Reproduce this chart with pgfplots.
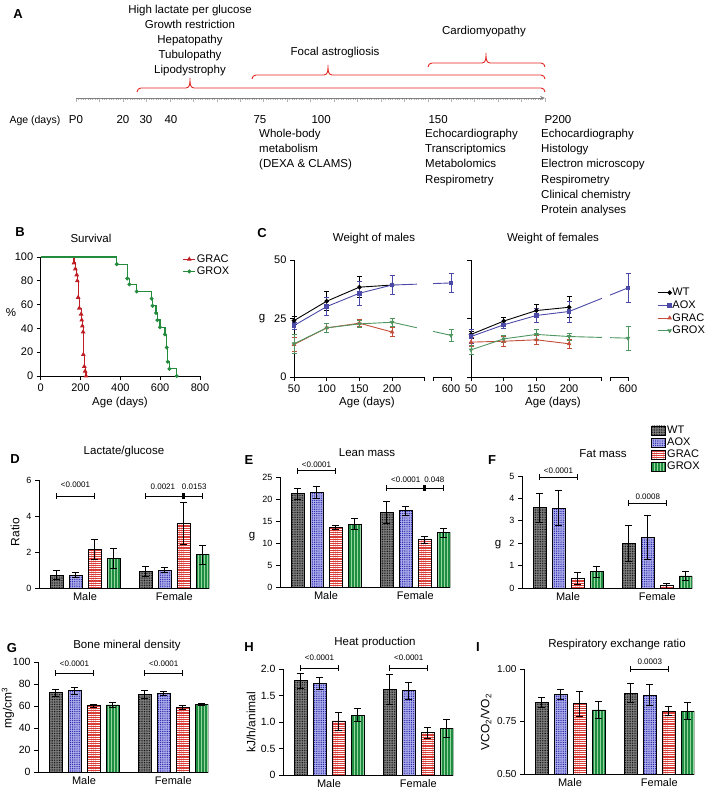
\documentclass[border=0pt]{standalone}
\usepackage{fontspec}
\setmainfont{Liberation Sans}
\usepackage{pgfplots}
\pgfplotsset{compat=1.18}
\usetikzlibrary{patterns.meta,arrows.meta}

\definecolor{aRed}{RGB}{226,38,32}
\definecolor{bRed}{RGB}{190,30,36}
\definecolor{bGreen}{RGB}{34,139,60}
\definecolor{cBlue}{RGB}{76,74,168}
\definecolor{cRed}{RGB}{196,78,58}
\definecolor{cGreen}{RGB}{78,150,96}
\definecolor{wtFill}{RGB}{130,130,130}
\definecolor{aoxFill}{RGB}{175,175,235}
\definecolor{aoxDot}{RGB}{35,35,170}
\definecolor{gracFill}{RGB}{218,62,56}
\definecolor{groxFill}{RGB}{30,140,65}
\definecolor{groxLine}{RGB}{150,215,160}

\newcommand\lfont{\fontsize{13}{15}\selectfont\bfseries}
\newcommand\tfont{\fontsize{11.5}{13}\selectfont}
\newcommand\afont{\fontsize{11.5}{15.2}\selectfont}
\newcommand\sfont{\fontsize{8}{9}\selectfont}
\newcommand\yfont{\fontsize{12}{14}\selectfont}

% red bracket of panel A: left end, tip, right end, height of the line (px from top)
\newcommand\brc[4]{\draw[aRed, line width=0.9pt] (#1pt,-#4pt-4pt) to[out=90,in=180] (#1pt+4pt,-#4pt)
  -- (#2pt-4pt,-#4pt) to[out=0,in=-90] (#2pt,-#4pt+10pt) to[out=-90,in=180] (#2pt+4pt,-#4pt)
  -- (#3pt-4pt,-#4pt) to[out=0,in=90] (#3pt,-#4pt-4pt);}

% significance bracket: x1, x2, label x, y, label, label shift
\newcommand\sig[6]{%
  \draw[line width=0.8pt] (axis cs:#1,#4) -- (axis cs:#2,#4);
  \draw[line width=0.8pt] ([yshift=-3pt]axis cs:#1,#4) -- ([yshift=3pt]axis cs:#1,#4);
  \draw[line width=0.8pt] ([yshift=-3pt]axis cs:#2,#4) -- ([yshift=3pt]axis cs:#2,#4);
  \node[anchor=south, inner sep=1pt, font=\sfont] at ([yshift=#6]axis cs:#3,#4) {#5};}
\newcommand\junc[2]{\fill ([xshift=-1.6pt,yshift=-2.6pt]axis cs:#1,#2) rectangle ([xshift=1.6pt,yshift=2.6pt]axis cs:#1,#2);}

\pgfplotsset{
  /pgf/number format/assume math mode=true,
  base/.style={anchor=south west, scale only axis, axis lines=left,
    axis line style={-, line width=0.9pt}, tick align=outside, major tick length=4pt,
    tick style={black, line width=0.9pt}, enlargelimits=false},
  barax/.style={base, width=170.24pt, xmin=0.08, xmax=9.04, ymin=0, clip mode=individual,
    xtick={2.5,7.2}, xticklabels={Male,Female}, x tick style={draw=none},
    xticklabel style={font=\fontsize{11}{13}\selectfont, yshift=3pt}},
  errs/.style={error bars/.cd, y dir=both, y explicit,
    error bar style={line width=0.8pt, black},
    error mark options={rotate=90, mark size=3.5pt, line width=0.8pt, black}},
  barleg/.style={legend image code/.code={\draw[##1] (0pt,-4.5pt) rectangle (14pt,4.5pt);}},
  mybar/.style={ybar, bar width=0.68, bar shift=0pt, draw=black, line width=0.8pt},
  sWT/.style={mybar, fill=wtFill, postaction={pattern={Dots[distance=1.7pt,radius=0.5pt]}, pattern color=black}, barleg, errs},
  sAOX/.style={mybar, fill=aoxFill, postaction={pattern={Dots[distance=2.2pt,radius=0.7pt]}, pattern color=aoxDot}, barleg, errs},
  sGRAC/.style={mybar, fill=gracFill, postaction={pattern={Lines[angle=0,distance=2.2pt,line width=0.45pt]}, pattern color=white}, barleg, errs},
  sGROX/.style={mybar, fill=groxFill, postaction={pattern={Lines[angle=90,distance=3pt,line width=0.8pt]}, pattern color=groxLine}, barleg, errs},
  cerr/.style={error bars/.cd, y dir=both, y explicit,
    error bar style={line width=0.7pt},
    error mark options={rotate=90, mark size=2.5pt, line width=0.7pt}},
}

\begin{document}
\begin{tikzpicture}
\useasboundingbox (0pt,0pt) rectangle (709pt,-793pt);

% ================= A: timeline
\node[font=\lfont] at (18pt,-14pt) {A};
\node[anchor=north, align=center, inner sep=0pt, font=\afont] at (190pt,-4.5pt)
  {High lactate per glucose\\Growth restriction\\Hepatopathy\\Tubulopathy\\Lipodystrophy};
\node[font=\afont] at (335pt,-53pt) {Focal astrogliosis};
\node[font=\afont] at (484pt,-32pt) {Cardiomyopathy};
\brc{137}{190}{545}{88}
\brc{252}{328}{545}{75}
\brc{428}{486}{545}{63}

\begin{axis}[at={(76pt,-98pt)}, anchor=south west, scale only axis, width=469pt, height=10pt,
  xmin=0, xmax=200, ymin=0, ymax=1, axis x line*=bottom, hide y axis,
  axis line style={gray, line width=0.8pt, -{Stealth[length=5pt,width=4pt]}},
  xtick={0,10,...,200}, minor x tick num=9, xticklabels={}, tick align=outside,
  major tick length=3.5pt, minor tick length=2pt, tick style={gray!60, line width=0.35pt}]
\addplot[draw=none] coordinates {(0,0) (200,0)};
\end{axis}

\node[anchor=base west, font=\fontsize{10.5}{12}\selectfont] at (6pt,-123pt) {Age (days)};
\foreach \x/\t in {76/P0, 123/20, 146/30, 171/40}
  \node[anchor=base, font=\afont] at (\x pt,-123pt) {\t};
\foreach \x/\t in {250/75, 308/100, 425/150, 541/P200}
  \node[anchor=base west, font=\afont] at (\x pt,-123pt) {\t};
\node[anchor=north west, align=left, inner sep=0pt, font=\afont] at (259pt,-129pt)
  {Whole-body\\metabolism\\(DEXA \& CLAMS)};
\node[anchor=north west, align=left, inner sep=0pt, font=\afont] at (425pt,-129pt)
  {Echocardiography\\Transcriptomics\\Metabolomics\\Respirometry};
\node[anchor=north west, align=left, inner sep=0pt, font=\afont] at (541pt,-129pt)
  {Echocardiography\\Histology\\Electron microscopy\\Respirometry\\Clinical chemistry\\Protein analyses};

% ================= B: survival
\node[font=\lfont] at (20pt,-232pt) {B};
\node[font=\tfont] at (91pt,-238pt) {Survival};
\begin{axis}[base, at={(40.7pt,-376pt)}, width=159.3pt, height=119pt,
  xmin=0, xmax=800, ymin=0, ymax=100, xtick={0,200,...,800}, ytick={0,20,...,100},
  tick label style={font=\fontsize{11}{13}\selectfont}, clip=false,
  legend style={at={(0.89,1.03)}, anchor=north west, draw=none, fill=none, inner sep=0pt,
    row sep=1pt, font=\fontsize{11}{12}\selectfont, nodes={inner sep=1pt}},
  legend cell align=left,
  legend image code/.code={\draw[#1, mark repeat=2, mark phase=2] plot coordinates {(0pt,0pt) (6pt,0pt) (12pt,0pt)};}]
\addplot[const plot, color=bRed, line width=1.2pt, mark=triangle*, mark size=1.6pt, mark repeat=1, mark phase=2]
  coordinates {(0,100) (167,95) (174,90) (181,85) (184,80) (188,66) (194,57) (203,52) (206,47)
               (209,42) (213,37) (214,18) (219,8) (223,4) (228,0)};
\addlegendentry{GRAC}
\addplot[const plot, color=bGreen, line width=1.2pt, mark=*, mark size=1.3pt, mark repeat=1, mark phase=2]
  coordinates {(0,100) (382,94) (435,82) (445,77) (482,71) (557,65) (562,59) (579,53) (586,47)
               (599,41) (624,35) (633,24) (638,12) (646,6) (683,0)};
\addlegendentry{GROX}
\end{axis}
\node[font=\tfont] at (120pt,-403pt) {Age (days)};
\node[font=\tfont] at (11pt,-313pt) {\%};

% ================= C: weights
\node[font=\lfont] at (262pt,-233pt) {C};
\node[font=\tfont] at (374pt,-239pt) {Weight of males};
\node[font=\tfont] at (553pt,-239pt) {Weight of females};
\begin{axis}[base, at={(294pt,-377pt)}, width=157pt, height=117pt,
  xmin=50, xmax=290, ymin=0, ymax=50,
  xtick={50,100,150,200,250,263,290}, xticklabels={50,100,150,200,,,600}, ytick={0,25,50},
  x axis line style={draw=none}, tick label style={font=\fontsize{11}{13}\selectfont}, clip=false]
\addplot[color=black, line width=0.9pt, mark=*, mark size=1.8pt, cerr]
  coordinates {(50,24.1) +- (0,1.8) (100,32.4) +- (0,4) (150,38.4) +- (0,4.5) (200,39.3) +- (0,4)};
\addplot[color=cBlue, line width=0.9pt, mark=square*, mark size=1.8pt, cerr]
  coordinates {(50,22.0) +- (0,1.5) (100,30.1) +- (0,3.9) (150,35.8) +- (0,5.2) (200,39.3) +- (0,4) (290,40.2) +- (0,4.2)};
\addplot[color=cRed, line width=0.9pt, mark=triangle*, mark size=1.8pt, cerr]
  coordinates {(50,13.9) +- (0,3) (100,21.0) +- (0,2) (150,23.0) +- (0,1.5) (200,19.2) +- (0,2)};
\addplot[color=cGreen, line width=0.9pt, mark=triangle*, mark size=1.8pt, mark options={rotate=180}, cerr]
  coordinates {(50,14.2) +- (0,4) (100,21.0) +- (0,2) (150,22.7) +- (0,1.5) (200,23.4) +- (0,1.8) (290,17.8) +- (0,2.5)};
\fill[white] (axis cs:238,1) rectangle (axis cs:262,48);
\draw[line width=0.9pt] (axis cs:50,0) -- (axis cs:250,0);
\draw[line width=0.9pt] (axis cs:263,0) -- (axis cs:290,0);
\end{axis}
\node[font=\tfont] at (262pt,-319pt) {g};
\node[font=\tfont] at (367pt,-403pt) {Age (days)};

\begin{axis}[base, at={(471pt,-377pt)}, width=157pt, height=117pt,
  xmin=50, xmax=290, ymin=0, ymax=50,
  xtick={50,100,150,200,250,263,290}, xticklabels={50,100,150,200,,,600}, ytick={0,25,50}, yticklabels={},
  x axis line style={draw=none}, tick label style={font=\fontsize{11}{13}\selectfont}, clip=false,
  legend style={at={(1.185,0.77)}, anchor=north west, draw=none, fill=none, inner sep=0pt,
    row sep=1.5pt, font=\fontsize{11}{12}\selectfont, nodes={inner sep=1pt}},
  legend cell align=left,
  legend image code/.code={\draw[#1, mark repeat=2, mark phase=2] plot coordinates {(0pt,0pt) (12pt,0pt)};}]
\addplot[color=black, line width=0.9pt, mark=*, mark size=1.8pt, cerr]
  coordinates {(50,18.2) +- (0,1.5) (100,23.9) +- (0,1.5) (150,28.4) +- (0,2.5) (200,29.8) +- (0,4.5)};
\addlegendentry{WT}
\addplot[color=cBlue, line width=0.9pt, mark=square*, mark size=1.8pt, cerr]
  coordinates {(50,17.3) +- (0,3) (100,22.3) +- (0,1.5) (150,26.3) +- (0,3) (200,28.0) +- (0,4.5) (290,38.1) +- (0,6)};
\addlegendentry{AOX}
\addplot[color=cRed, line width=0.9pt, mark=triangle*, mark size=1.8pt, cerr]
  coordinates {(50,14.9) +- (0,2) (100,15.3) +- (0,2) (150,15.9) +- (0,2) (200,14.2) +- (0,2)};
\addlegendentry{GRAC}
\addplot[color=cGreen, line width=0.9pt, mark=triangle*, mark size=1.8pt, mark options={rotate=180}, cerr]
  coordinates {(50,11.6) +- (0,2) (100,16.3) +- (0,1.5) (150,18.2) +- (0,2) (200,17.3) +- (0,1.5) (290,16.6) +- (0,5)};
\addlegendentry{GROX}
\fill[white] (axis cs:251,1) rectangle (axis cs:262,48);
\draw[line width=0.9pt] (axis cs:50,0) -- (axis cs:250,0);
\draw[line width=0.9pt] (axis cs:263,0) -- (axis cs:290,0);
\end{axis}
\node[font=\tfont] at (553pt,-403pt) {Age (days)};

% ================= D: lactate/glucose
\node[font=\lfont] at (15pt,-459pt) {D};
\node[font=\tfont] at (124pt,-452pt) {Lactate/glucose};
\begin{axis}[barax, at={(39pt,-588pt)}, height=108pt, ymax=6, ytick={0,2,4,6},
  yticklabel style={font=\fontsize{9}{11}\selectfont}]
\addplot[sWT] coordinates {(1,0.72) +- (0,0.25) (5.7,0.9) +- (0,0.28)};
\addplot[sAOX] coordinates {(2,0.72) +- (0,0.15) (6.7,1.0) +- (0,0.15)};
\addplot[sGRAC] coordinates {(3,2.15) +- (0,0.55) (7.7,3.59) +- (0,1.15)};
\addplot[sGROX] coordinates {(4,1.65) +- (0,0.55) (8.7,1.85) +- (0,0.52)};
\sig{1}{3}{2}{5.11}{<0.0001}{7pt}
\sig{5.7}{7.7}{6.6}{5.11}{0.0021}{5pt}
\sig{7.7}{8.7}{8.25}{5.11}{0.0153}{5pt}
\junc{7.7}{5.11}
\end{axis}
\node[font=\yfont, rotate=90] at (15pt,-532pt) {Ratio};

% ================= E: lean mass
\node[font=\lfont] at (249pt,-460pt) {E};
\node[font=\tfont] at (367pt,-453pt) {Lean mass};
\begin{axis}[barax, at={(280pt,-587pt)}, height=110pt, ymax=25, ytick={0,5,...,25},
  yticklabel style={font=\fontsize{9}{11}\selectfont}]
\addplot[sWT] coordinates {(1,21.2) +- (0,1.2) (5.7,16.9) +- (0,2.5)};
\addplot[sAOX] coordinates {(2,21.5) +- (0,1.4) (6.7,17.3) +- (0,1.1)};
\addplot[sGRAC] coordinates {(3,13.6) +- (0,0.5) (7.7,10.8) +- (0,0.8)};
\addplot[sGROX] coordinates {(4,14.3) +- (0,1.2) (8.7,12.3) +- (0,1.0)};
\sig{1}{3}{2}{26.4}{<0.0001}{2pt}
\sig{5.7}{7.7}{6.7}{22.5}{<0.0001}{4pt}
\sig{7.7}{8.7}{8.2}{22.5}{0.048}{4pt}
\junc{7.7}{22.5}
\end{axis}
\node[font=\tfont] at (252pt,-537pt) {g};

% ================= F: fat mass
\node[font=\lfont] at (492pt,-460pt) {F};
\node[font=\tfont] at (603pt,-454pt) {Fat mass};
\begin{axis}[barax, at={(522pt,-588pt)}, height=112pt, ymax=5, ytick={0,1,...,5},
  yticklabel style={font=\fontsize{9}{11}\selectfont},
  legend style={at={(0.758,1.46)}, anchor=north west, draw=none, fill=none, inner sep=0pt,
    row sep=0.5pt, font=\fontsize{11}{11}\selectfont, nodes={inner sep=1.2pt}},
  legend cell align=left]
\addplot[sWT] coordinates {(1,3.58) +- (0,0.65) (5.7,2.0) +- (0,0.8)};
\addlegendentry{WT}
\addplot[sAOX] coordinates {(2,3.56) +- (0,0.78) (6.7,2.26) +- (0,1.0)};
\addlegendentry{AOX}
\addplot[sGRAC] coordinates {(3,0.43) +- (0,0.28) (7.7,0.1) +- (0,0.1)};
\addlegendentry{GRAC}
\addplot[sGROX] coordinates {(4,0.73) +- (0,0.25) (8.7,0.54) +- (0,0.22)};
\addlegendentry{GROX}
\sig{1}{3}{2}{4.96}{<0.0001}{2pt}
\sig{5.7}{7.7}{6.7}{3.79}{0.0008}{2pt}
\end{axis}
\node[font=\tfont] at (498pt,-545pt) {g};

% ================= G: bone mineral density
\node[font=\lfont] at (12pt,-648pt) {G};
\node[font=\tfont] at (127pt,-646pt) {Bone mineral density};
\begin{axis}[barax, at={(38pt,-772pt)}, height=110pt, ymax=100, ytick={0,20,...,100},
  yticklabel style={font=\fontsize{10.5}{12}\selectfont}]
\addplot[sWT] coordinates {(1,72) +- (0,3) (5.7,70.6) +- (0,4)};
\addplot[sAOX] coordinates {(2,73.8) +- (0,3) (6.7,71.2) +- (0,1.8)};
\addplot[sGRAC] coordinates {(3,60.3) +- (0,1.5) (7.7,58.8) +- (0,2)};
\addplot[sGROX] coordinates {(4,61.0) +- (0,2.5) (8.7,61.3) +- (0,1)};
\sig{1}{3}{2}{90}{<0.0001}{5pt}
\sig{5.7}{7.7}{6.7}{90}{<0.0001}{5pt}
\end{axis}
\node[font=\yfont, rotate=90] at (8pt,-708pt) {mg/cm\textsuperscript{3}};

% ================= H: heat production
\node[font=\lfont] at (249pt,-647pt) {H};
\node[font=\tfont] at (375pt,-643pt) {Heat production};
\begin{axis}[barax, at={(283pt,-775pt)}, height=106pt, ymax=2, ytick={0,0.5,1,1.5,2},
  yticklabels={0,0.5,1.0,1.5,2.0}, yticklabel style={font=\fontsize{10.5}{12}\selectfont}]
\addplot[sWT] coordinates {(1,1.78) +- (0,0.14) (5.7,1.62) +- (0,0.28)};
\addplot[sAOX] coordinates {(2,1.73) +- (0,0.11) (6.7,1.59) +- (0,0.16)};
\addplot[sGRAC] coordinates {(3,1.02) +- (0,0.17) (7.7,0.80) +- (0,0.1)};
\addplot[sGROX] coordinates {(4,1.13) +- (0,0.12) (8.7,0.88) +- (0,0.17)};
\sig{1}{3}{2}{2.02}{<0.0001}{6pt}
\sig{5.7}{7.7}{6.7}{2.02}{<0.0001}{6pt}
\end{axis}
\node[font=\yfont, rotate=90] at (251pt,-722pt) {kJ/h/animal};

% ================= I: respiratory exchange ratio
\node[font=\lfont] at (478pt,-647pt) {I};
\node[font=\tfont] at (617pt,-645pt) {Respiratory exchange ratio};
\begin{axis}[barax, at={(524pt,-774pt)}, height=105pt, ymin=0.5, ymax=1, ytick={0.5,0.75,1},
  yticklabels={0.50,0.75,1.00}, yticklabel style={font=\fontsize{10}{12}\selectfont}]
\addplot[sWT] coordinates {(1,0.84) +- (0,0.025) (5.7,0.885) +- (0,0.045)};
\addplot[sAOX] coordinates {(2,0.88) +- (0,0.025) (6.7,0.875) +- (0,0.05)};
\addplot[sGRAC] coordinates {(3,0.835) +- (0,0.06) (7.7,0.80) +- (0,0.022)};
\addplot[sGROX] coordinates {(4,0.805) +- (0,0.04) (8.7,0.80) +- (0,0.04)};
\sig{5.7}{7.7}{6.7}{1.0}{0.0003}{3pt}
\end{axis}
\node[font=\yfont, rotate=90] at (486pt,-722pt) {VCO\textsubscript{2}/VO\textsubscript{2}};

\end{tikzpicture}
\end{document}
